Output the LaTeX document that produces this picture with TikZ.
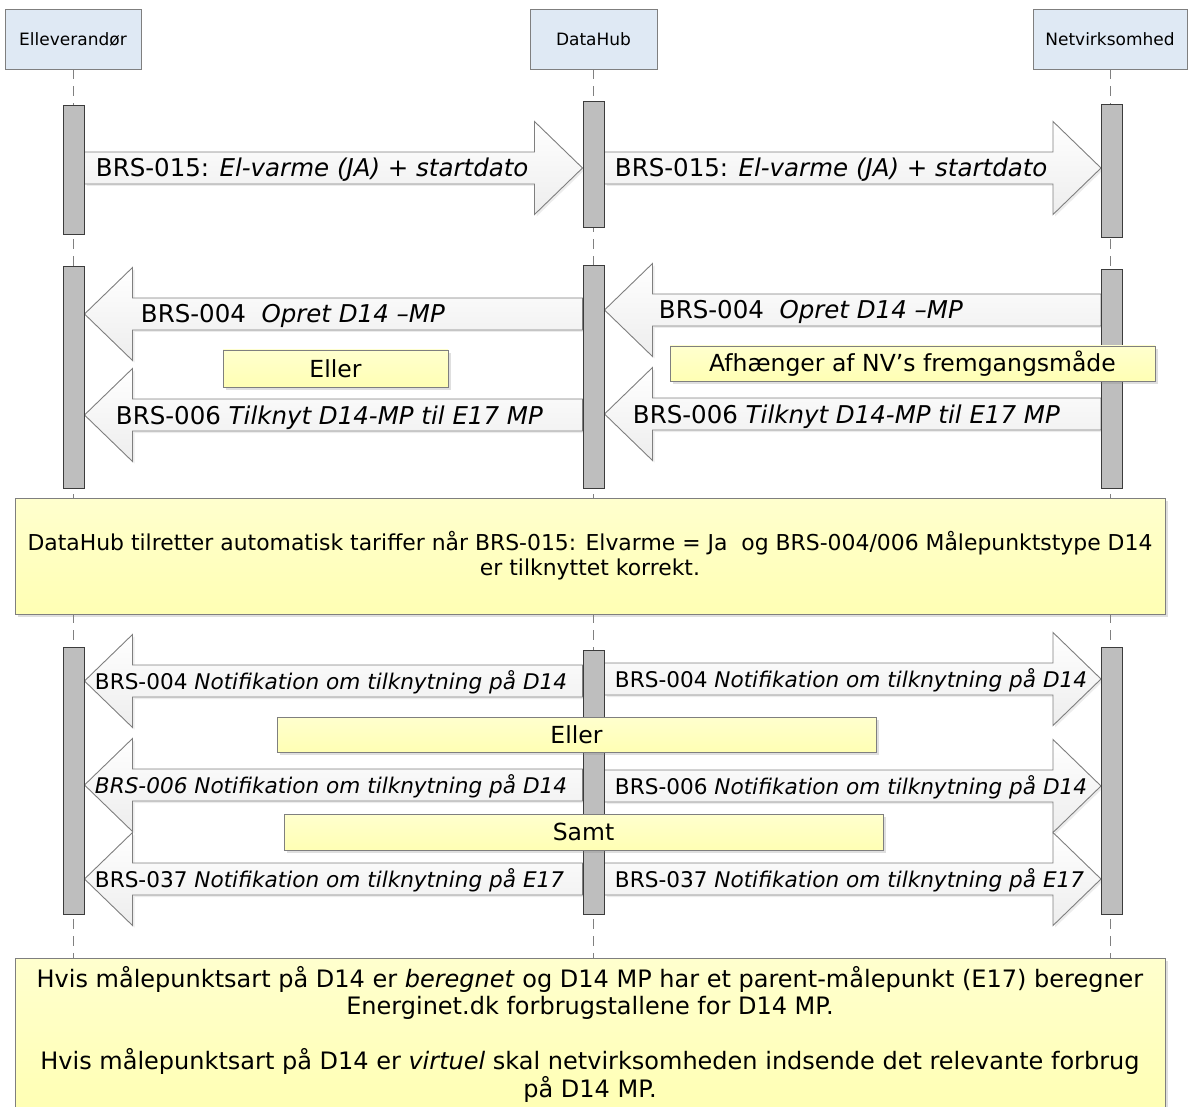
\documentclass[tikz,border=0pt]{standalone}
\usepackage{fontspec}
\setmainfont{DejaVu Sans}
\usetikzlibrary{calc,shadows,backgrounds}

\definecolor{hdrblue}{HTML}{DFE9F4}
\definecolor{edge}{HTML}{7F7F7F}
\definecolor{barfill}{HTML}{BEBEBE}
\definecolor{barline}{HTML}{3C3C3C}
\definecolor{notetop}{HTML}{FFFFCE}
\definecolor{notebot}{HTML}{FFFFB4}
\definecolor{lifegray}{HTML}{808080}

\newcommand{\fsz}[2]{\fontsize{#1}{#2}\selectfont}

% block arrow between two bars: tail, tip, label name, label options, label
\newcommand{\blockmsg}[5]{%
  \draw[blk] let \p1=#1, \p2=#2, \n1={ifthenelse(\x2>\x1,1,-1)}, \n2={min(\x1,\x2)} in
    (\x1,{\y1+16pt}) -- ({\x2-(\n1)*48pt},{\y1+16pt}) -- ({\x2-(\n1)*48pt},{\y1+46.5pt})
    -- (\x2,\y1) -- ({\x2-(\n1)*48pt},{\y1-46.5pt}) -- ({\x2-(\n1)*48pt},{\y1-16pt})
    -- (\x1,{\y1-16pt}) -- cycle
    ({\n2*1pt},\y1) node[msglbl,#4] (#3) {#5};
}

\begin{document}
\begin{tikzpicture}[x=1pt, y=-1pt,
  hdr/.style={draw=edge, fill=hdrblue, minimum height=60pt, inner sep=0pt, font=\fsz{17}{20}},
  actbar/.style={draw=barline, fill=barfill, line width=1pt, minimum width=21pt, inner sep=0pt},
  life/.style={draw=lifegray, line width=0.9pt, dash pattern=on 10pt off 7pt},
  blk/.style={draw=edge, line width=0.9pt, top color=white, bottom color=gray!14,
    drop shadow={shadow xshift=2pt, shadow yshift=-2pt, opacity=0.15}},
  msglbl/.style={anchor=base west, inner sep=0pt, yshift=-9pt, font=\fsz{24.5}{29}},
  smallmsg/.style={yshift=1pt, font=\fsz{21.6}{26}},
  note/.style={draw=edge, line width=0.9pt, top color=notetop, bottom color=notebot, inner sep=0pt,
    align=center, font=\fsz{23.5}{28},
    drop shadow={shadow xshift=3pt, shadow yshift=-3pt, opacity=0.25}}
]
\useasboundingbox (0,0) rectangle (1189,1107);

% lanes
\node[hdr, minimum width=136pt] (ellev) at (73,39) {Elleverandør};
\node[hdr, minimum width=127pt] (hub) at (593.5,39) {DataHub};
\node[hdr, minimum width=154pt] (netv) at (1110,39) {Netvirksomhed};

% activation bars
\node[actbar, minimum height=129pt] (e1) at (73.5,170.5) {};
\node[actbar, minimum height=126pt] (d1) at (593.5,165) {};
\node[actbar, minimum height=133pt] (n1) at (1112,171.5) {};
\node[actbar, minimum height=221pt] (e2) at (73.5,377.5) {};
\node[actbar, minimum height=222pt] (d2) at (593.5,377) {};
\node[actbar, minimum height=218pt] (n2) at (1112,379) {};
\node[actbar, minimum height=267pt] (e3) at (73.5,780.5) {};
\node[actbar, minimum height=264pt] (d3) at (593.5,782) {};
\node[actbar, minimum height=267pt] (n3) at (1112,780.5) {};

% notes
\node[note, minimum width=225pt, minimum height=37pt] (eller1) at (335.5,368.5) {Eller};
\node[note, minimum width=485pt, minimum height=35pt] (nvway) at (912.5,363.5) {Afhænger af NV’s fremgangsmåde};
\node[note, minimum width=1150pt, minimum height=116pt, font=\fsz{21.9}{25}] (tariff) at (590,556)
  {DataHub tilretter automatisk tariffer når BRS-015: Elvarme = Ja\ \ og BRS-004/006 Målepunktstype D14\\er tilknyttet korrekt.};
\node[note, minimum width=599pt, minimum height=35pt] (eller2) at (576.5,734.5) {Eller};
\node[note, minimum width=599pt, minimum height=36pt] (samt) at (583.5,832) {Samt};
\node[note, minimum width=1150pt, minimum height=152pt, font=\fsz{24}{27.5}] (calc) at (590,1034)
  {Hvis målepunktsart på D14 er \textit{beregnet} og D14 MP har et parent-målepunkt (E17) beregner\\
   Energinet.dk forbrugstallene for D14 MP.\\[27.5pt]
   Hvis målepunktsart på D14 er \textit{virtuel} skal netvirksomheden indsende det relevante forbrug\\
   på D14 MP.};

\begin{scope}[on background layer]
  \draw[life] (ellev.south) -- (ellev.south |- 0,1107);
  \draw[life] (hub.south) -- (hub.south |- 0,1107);
  \draw[life] (netv.south) -- (netv.south |- 0,1107);

  % messages
  \blockmsg{(e1.east |- 0,168)}{(d1.west |- 0,168)}{m1}{xshift=11pt}{BRS-015: \textit{El-varme (JA) + startdato}}
  \blockmsg{(d1.east |- 0,168)}{(n1.west |- 0,168)}{m2}{xshift=10pt}{BRS-015: \textit{El-varme (JA) + startdato}}
  \blockmsg{(d2.west |- 0,314)}{(e2.east |- 0,314)}{m3}{xshift=56pt}{BRS-004\ \ \textit{Opret D14 –MP}}
  \blockmsg{(d2.west |- 0,415)}{(e2.east |- 0,415)}{m4}{xshift=31pt}{BRS-006 \textit{Tilknyt D14-MP til E17 MP}}
  \blockmsg{(n2.west |- 0,310)}{(d2.east |- 0,310)}{m5}{xshift=54pt}{BRS-004\ \ \textit{Opret D14 –MP}}
  \blockmsg{(n2.west |- 0,414)}{(d2.east |- 0,414)}{m6}{xshift=28pt}{BRS-006 \textit{Tilknyt D14-MP til E17 MP}}
  \blockmsg{(d3.west |- 0,681)}{(e3.east |- 0,681)}{m7}{xshift=10pt,smallmsg}{BRS-004 \textit{Notifikation om tilknytning på D14}}
  \blockmsg{(d3.west |- 0,785)}{(e3.east |- 0,785)}{m8}{xshift=10pt,smallmsg}{\textit{BRS-006 Notifikation om tilknytning på D14}}
  \blockmsg{(d3.west |- 0,879)}{(e3.east |- 0,879)}{m9}{xshift=10pt,smallmsg}{BRS-037 \textit{Notifikation om tilknytning på E17}}
  \blockmsg{(d3.east |- 0,679)}{(n3.west |- 0,679)}{m10}{xshift=10pt,smallmsg}{BRS-004 \textit{Notifikation om tilknytning på D14}}
  \blockmsg{(d3.east |- 0,786)}{(n3.west |- 0,786)}{m11}{xshift=10pt,smallmsg}{BRS-006 \textit{Notifikation om tilknytning på D14}}
  \blockmsg{(d3.east |- 0,879)}{(n3.west |- 0,879)}{m12}{xshift=10pt,smallmsg}{BRS-037 \textit{Notifikation om tilknytning på E17}}
\end{scope}
\end{tikzpicture}
\end{document}
